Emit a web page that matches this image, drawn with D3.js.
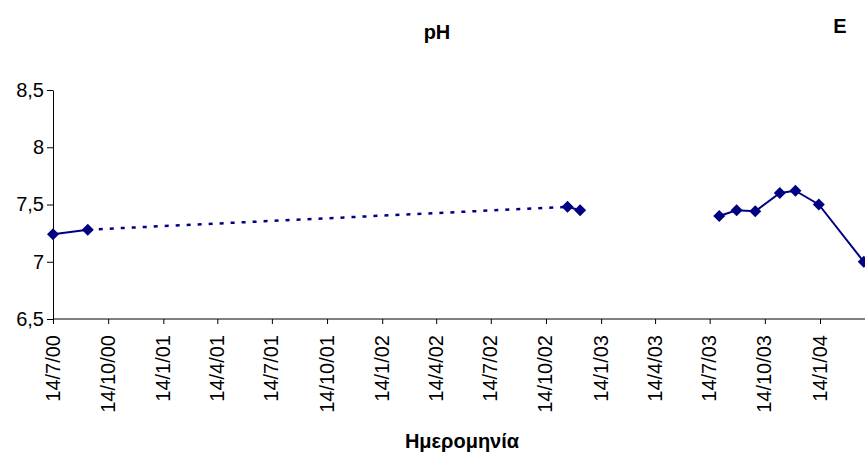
<!DOCTYPE html>
<html>
<head>
<meta charset="utf-8">
<script src="https://cdn.jsdelivr.net/npm/d3@7"></script>
<style>
  html, body { margin: 0; padding: 0; background: #fff; }
  svg { display: block; font-family: Arial, "Liberation Sans", sans-serif; }
</style>
</head>
<body>
<svg id="chart" width="865" height="456"></svg>
<script>
// pH measurements (sampling date, value)
const sampleDates = ["2000-07-14", "2000-09-10", "2002-11-19", "2002-12-10",
                     "2003-07-30", "2003-08-28", "2003-09-28", "2003-11-08",
                     "2003-12-04", "2004-01-12", "2004-03-27"];
const phValues = [7.24, 7.28, 7.48, 7.45, 7.40, 7.45, 7.44, 7.60, 7.62, 7.50, 7.00];

// How each consecutive pair of samples is joined: "solid", "dashed" or "none"
const joins = ["solid", "dashed", "solid", "none", "solid", "solid", "solid", "solid", "solid", "solid"];

// Axis ticks
const xTickLabels = ["14/7/00", "14/10/00", "14/1/01", "14/4/01", "14/7/01", "14/10/01",
                     "14/1/02", "14/4/02", "14/7/02", "14/10/02", "14/1/03", "14/4/03",
                     "14/7/03", "14/10/03", "14/1/04"];
const yTicks = [6.5, 7, 7.5, 8, 8.5];

const chartTitle = "pH";
const cornerLabel = "E";
const xAxisTitle = "Ημερομηνία";

const svg = d3.select("#chart");
const W = 865;
const navy = "#000080";
const axisColor = "#000";
const font = "Arial, 'Liberation Sans', sans-serif";

const parseISO = d3.utcParse("%Y-%m-%d");
const parseTick = d3.utcParse("%d/%m/%y");

const data = sampleDates.map((d, i) => ({ date: parseISO(d), value: phValues[i] }));
const tickDates = xTickLabels.map(parseTick);

const x = d3.scaleUtc()
  .domain([tickDates[0], tickDates[tickDates.length - 1]])
  .range([53, 820]);
const y = d3.scaleLinear().domain([6.5, 8.5]).range([319, 90]);

const commaLocale = d3.formatLocale({ decimal: ",", thousands: ".", grouping: [3], currency: ["", "€"] });
const yFmt = v => commaLocale.format("~g")(v);

// Titles
svg.append("text")
  .attr("x", 437).attr("y", 39)
  .attr("text-anchor", "middle")
  .attr("font-size", 20).attr("font-weight", "bold")
  .text(chartTitle);

svg.append("text")
  .attr("x", 840).attr("y", 33)
  .attr("text-anchor", "middle")
  .attr("font-size", 20).attr("font-weight", "bold")
  .text(cornerLabel);

svg.append("text")
  .attr("x", 462).attr("y", 448)
  .attr("text-anchor", "middle")
  .attr("font-size", 20).attr("font-weight", "bold")
  .text(xAxisTitle);

// Y axis
const yAxis = svg.append("g")
  .attr("transform", "translate(53,0)")
  .call(d3.axisLeft(y).tickValues(yTicks).tickFormat(yFmt).tickSize(6).tickSizeOuter(0).tickPadding(3));
yAxis.selectAll("text").attr("font-size", 20).attr("fill", "#000").attr("font-family", font);
yAxis.selectAll("line, path").attr("stroke", axisColor);

// X axis (runs on past the right edge)
const xAxis = svg.append("g")
  .attr("transform", "translate(0,319)")
  .call(d3.axisBottom(x).tickValues(tickDates).tickFormat((d, i) => xTickLabels[i]).tickSize(5).tickSizeOuter(0));
xAxis.select("path.domain").attr("d", `M53,0H${W + 10}`);
xAxis.selectAll("line, path").attr("stroke", axisColor);
xAxis.selectAll("text")
  .attr("font-size", 20).attr("fill", "#000").attr("font-family", font)
  .attr("text-anchor", "end")
  .attr("transform", "rotate(-90)")
  .attr("x", -16).attr("y", -1).attr("dy", "0.35em");

// Connecting segments
const segs = svg.append("g");
joins.forEach((style, i) => {
  if (style === "none") return;
  const a = data[i], b = data[i + 1];
  segs.append("line")
    .attr("x1", x(a.date)).attr("y1", y(a.value))
    .attr("x2", x(b.date)).attr("y2", y(b.value))
    .attr("stroke", navy)
    .attr("stroke-width", style === "dashed" ? 2.5 : 2)
    .attr("stroke-dasharray", style === "dashed" ? "4,7" : null);
});

// Diamond markers
svg.append("g").selectAll("path")
  .data(data)
  .join("path")
  .attr("d", d3.symbol().type(d3.symbolSquare).size(72))
  .attr("transform", d => `translate(${x(d.date)},${y(d.value)}) rotate(45)`)
  .attr("fill", navy);
</script>
</body>
</html>
